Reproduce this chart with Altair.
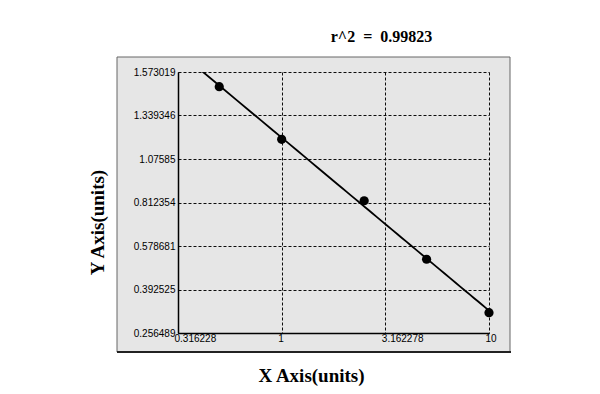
import altair as alt
import numpy as np
import pandas as pd

# ---- data ----
x_values = [0.5, 1.0, 2.5, 5.0, 10.0]
y_values = [1.494, 1.195, 0.823, 0.522, 0.320]

y_ticks = [0.256489, 0.392525, 0.578681, 0.812354, 1.07585, 1.339346, 1.573019]
y_tick_labels = ["0.256489", "0.392525", "0.578681", "0.812354", "1.07585", "1.339346", "1.573019"]
x_ticks = [0.316228, 1, 3.162278, 10]
x_domain = [0.316228, 10]
r2_label = "r^2\u00a0\u00a0=\u00a0\u00a00.99823"

# The y axis grid is evenly spaced between its tick values: map values onto that grid.
pos = np.interp(y_values, y_ticks, np.arange(len(y_ticks)))
df = pd.DataFrame({"x": x_values, "y": y_values, "pos": pos})

W, H = 311, 261
PANEL_BG = "#e6e6e6"

label_expr = "[" + ",".join("'%s'" % s for s in y_tick_labels) + "][datum.value]"

x_enc = alt.X(
    "x:Q",
    scale=alt.Scale(type="log", domain=x_domain, nice=False),
    axis=alt.Axis(
        values=x_ticks, format=".7~g", title="X Axis(units)",
        grid=True, gridDash=[3, 2], gridColor="#000", gridWidth=1, gridOpacity=0.95,
        ticks=False, labelPadding=0, labelAlign="left", labelBaseline="top", labelOffset=-4,
        labelFont="Liberation Sans", labelFontSize=10, labelColor="#000",
        titleFont="Liberation Serif", titleFontSize=19, titleFontWeight="bold",
        titleColor="#000", titleX=133, titleY=42, titleBaseline="middle",
        domainColor="#000", domainWidth=1.5, zindex=1,
    ),
)
y_enc = alt.Y(
    "pos:Q",
    scale=alt.Scale(domain=[0, len(y_ticks) - 1], nice=False, zero=False),
    axis=alt.Axis(
        values=list(range(len(y_ticks))), labelExpr=label_expr, title="Y Axis(units)",
        grid=True, gridDash=[3, 2], gridColor="#000", gridWidth=1, gridOpacity=0.95,
        ticks=False, labelPadding=3, labelBaseline="middle",
        labelFont="Liberation Sans", labelFontSize=10, labelColor="#000",
        titleFont="Liberation Serif", titleFontSize=19, titleFontWeight="bold",
        titleColor="#000", titleX=-81, titleY=150, titleBaseline="middle", titleAngle=-90,
        domainColor="#000", domainWidth=1.5, zindex=1,
    ),
)

panel = alt.Chart(pd.DataFrame({"k": [0]})).mark_rect(
    fill=PANEL_BG, stroke="#666", strokeWidth=1, clip=False
).encode(
    x=alt.value(-61), x2=alt.value(332), y=alt.value(-15), y2=alt.value(280)
)
panel_shadow = alt.Chart(pd.DataFrame({"k": [0]})).mark_rule(
    color="#222", strokeWidth=2, clip=False
).encode(x=alt.value(-61), x2=alt.value(333), y=alt.value(280))

fit = alt.Chart(df).transform_regression(
    "x", "pos", method="log", extent=x_domain
).mark_line(color="#000", strokeWidth=1.8, clip=True).encode(x=x_enc, y=y_enc)

points = alt.Chart(df).mark_point(
    filled=True, shape="circle", size=85, color="#000", opacity=1
).encode(x=x_enc, y=y_enc)

chart = alt.layer(panel, panel_shadow, fit, points).properties(
    width=W, height=H,
    title=alt.TitleParams(
        r2_label, anchor="middle", dx=48, offset=12, font="Liberation Serif",
        fontSize=16, fontWeight="bold", color="#000",
    ),
    autosize=alt.AutoSizeParams(type="none"),
    padding={"left": 170, "top": 64, "right": 103, "bottom": 53},
    background="white",
).configure_view(
    fill=PANEL_BG, stroke="#000", strokeWidth=1.5
)

chart.save("out.html", embed_options={"renderer": "svg", "actions": False})
